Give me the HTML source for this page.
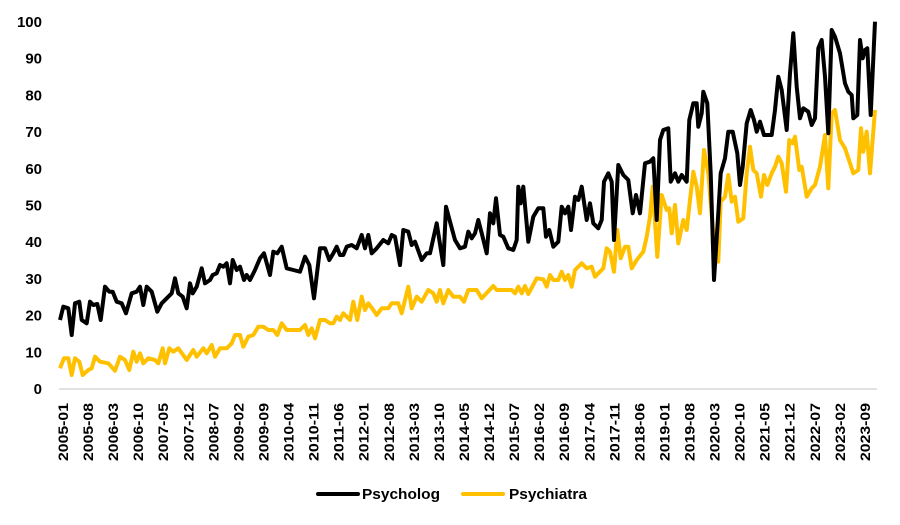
<!DOCTYPE html>
<html><head><meta charset="utf-8"><style>
html,body{margin:0;padding:0;background:#fff;width:900px;height:525px;overflow:hidden}
text{font-family:"Liberation Sans",sans-serif;font-weight:bold;fill:#000}
</style></head><body>
<svg id="s" width="900" height="525" xmlns="http://www.w3.org/2000/svg">
<line x1="59" y1="389" x2="877" y2="389" stroke="#d9d9d9" stroke-width="1.5"/>
<g id="yl" font-size="15" text-anchor="end"></g>
<g id="xl" font-size="14"></g>
<polyline id="py" fill="none" stroke="#ffc000" stroke-width="4" stroke-linejoin="round"/>
<polyline id="pb" fill="none" stroke="#000" stroke-width="4" stroke-linejoin="round"/>
<line x1="318" y1="494" x2="358" y2="494" stroke="#000" stroke-width="4" stroke-linecap="round"/>
<text x="362" y="499" font-size="15" textLength="78" lengthAdjust="spacingAndGlyphs">Psycholog</text>
<line x1="463" y1="494" x2="503" y2="494" stroke="#ffc000" stroke-width="4" stroke-linecap="round"/>
<text x="509" y="499" font-size="15" textLength="78" lengthAdjust="spacingAndGlyphs">Psychiatra</text>
</svg>
<script>
var NS="http://www.w3.org/2000/svg";
var yl=document.getElementById("yl");
for(var v=0;v<=100;v+=10){var t=document.createElementNS(NS,"text");t.setAttribute("x",42);t.setAttribute("y",389-v*3.67+5);t.textContent=v;yl.appendChild(t);}
var xl=document.getElementById("xl");
for(var i=0;i<33;i++){var m=i*7,yr=2005+Math.floor(m/12),mo=m%12+1;var x=63+i*25.06+5;
var t=document.createElementNS(NS,"text");t.setAttribute("transform","translate("+x+",403) rotate(-90)");t.setAttribute("text-anchor","end");t.setAttribute("textLength","58");t.setAttribute("lengthAdjust","spacingAndGlyphs");t.textContent=yr+"-"+(mo<10?"0":"")+mo;xl.appendChild(t);}
function conv(a,ox){var r=[];for(var k=0;k<a.length;k+=2)r.push((ox+a[k]/3).toFixed(1)+","+(a[k+1]/3).toFixed(1));return r;}
var b1=[60,960,70,920,85,925,95,1005,105,910,118,905,125,960,140,970,150,905,160,915,172,912,182,960,195,860,208,875,218,875,230,905,245,910,258,940,275,880,290,875,300,860,310,915,320,860,335,875,352,935,365,910,380,895,395,880,405,835,415,880,428,890,440,925,450,850,458,880,470,860,485,805,495,850,510,840,518,825,530,820,540,795,550,800,560,790,570,850,578,780,590,810,600,800,612,840,620,825,630,840,645,810,660,775,672,760,690,825,700,755,712,760,725,740,740,805,760,810,780,815,795,770,808,795,822,895,840,745,855,745,868,780,880,760,890,740,900,765,910,765,920,740,935,735,950,745,965,705,975,745,985,705,995,760,1010,745,1030,720,1045,730,1055,705,1065,710,1080,795,1090,690,1105,695,1115,735,1125,725,1145,780,1160,760,1170,760,1190,670,1210,795,1218,620,1230,665,1245,720];
var b2=[0,745,15,740,25,695,35,715,45,700,55,660,65,700,80,760,90,640,100,670,108,595,120,705,130,710,145,745,160,750,170,720,175,560,182,610,190,560,205,725,220,650,235,625,250,625,258,710,268,690,280,740,295,725,305,620,315,640,325,620,333,690,345,590,355,600,365,560,380,660,390,610,400,670,415,685,425,660,432,545,445,520,455,545,462,720,475,495,490,525,505,540,518,640,528,585,540,640,555,490,570,485,580,475,590,660,600,420,610,390,625,385,632,545,645,520,655,545,665,525,680,545,688,360,700,310,710,310,715,380,725,340,730,275,742,310,752,520,762,840,775,640,782,520,795,475,805,395,818,395,832,460,840,555,848,500,860,370,872,330,882,360,890,395,900,365,912,405,935,405,945,330,955,230,965,270,980,390,990,220,1000,100,1010,260,1020,355,1030,325,1045,335,1055,375,1065,355,1075,145,1085,120,1095,230,1105,400,1115,90,1125,110,1140,160,1155,250,1165,275,1175,285,1180,355,1192,345,1200,120,1208,175,1215,150,1222,145,1232,345,1245,65];
var y1=[60,1105,72,1075,85,1075,95,1125,105,1075,118,1085,128,1125,145,1110,155,1105,165,1070,180,1085,205,1090,225,1112,240,1070,255,1080,268,1110,280,1055,290,1085,300,1060,310,1090,325,1075,345,1080,355,1090,368,1045,375,1090,388,1045,400,1055,415,1045,440,1080,460,1050,470,1070,490,1045,500,1060,515,1035,525,1070,540,1045,560,1045,575,1030,585,1005,600,1005,610,1040,625,1010,640,1005,655,980,670,980,685,990,700,990,712,1005,725,970,740,990,780,990,795,975,805,1005,815,985,825,1015,840,960,855,960,870,970,880,970,890,950,900,960,910,940,920,950,930,960,940,905,952,960,965,890,975,930,985,910,1000,930,1010,945,1025,925,1045,925,1055,910,1075,910,1085,940,1105,860,1115,925,1130,890,1145,905,1165,870,1180,880,1190,905,1200,870,1210,910,1225,870,1240,890];
var y2=[0,890,12,905,25,870,50,870,65,895,100,858,110,870,155,870,165,880,175,860,185,880,195,858,205,882,230,835,250,838,260,860,270,825,280,840,295,840,305,815,315,840,325,825,335,860,345,810,365,790,380,805,395,800,405,830,430,805,440,745,450,755,462,815,472,690,482,775,495,740,505,740,515,805,530,780,550,755,560,710,570,650,578,560,592,770,605,585,620,630,628,625,635,700,645,615,655,730,670,660,680,690,690,600,700,515,710,560,720,640,732,450,745,520,758,680,765,760,775,785,782,605,795,590,805,525,815,605,825,590,835,665,850,655,860,520,870,440,880,510,890,520,903,590,912,525,922,555,935,520,945,500,955,470,965,490,978,575,988,420,998,430,1005,410,1018,510,1025,500,1040,590,1055,565,1065,555,1080,500,1095,405,1105,565,1115,340,1125,330,1140,420,1155,445,1170,490,1180,520,1195,510,1203,385,1210,455,1220,395,1230,520,1245,330];
document.getElementById("pb").setAttribute("points",conv(b1,40).concat(conv(b2,460)).join(" "));
document.getElementById("py").setAttribute("points",conv(y1,40).concat(conv(y2,460)).join(" "));
</script>
</body></html>
